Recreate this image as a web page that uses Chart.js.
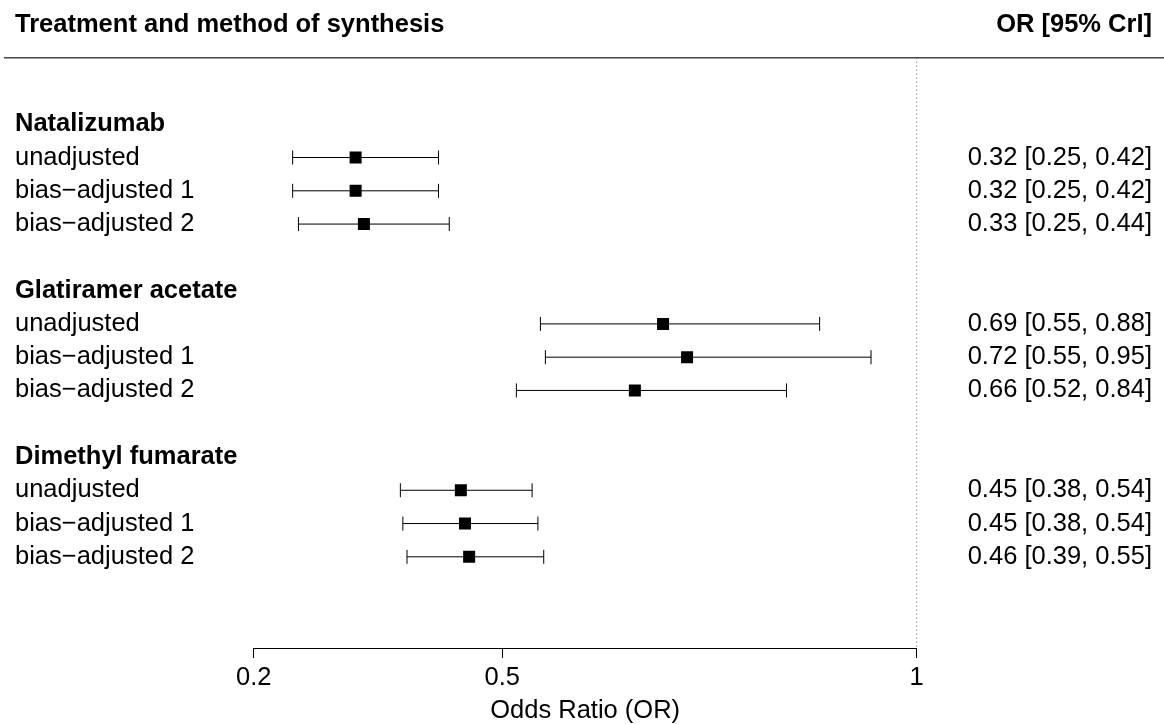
<!DOCTYPE html>
<html>
<head>
<meta charset="utf-8">
<title>Forest plot</title>
<script src="https://cdn.jsdelivr.net/npm/chart.js@4.4.0/dist/chart.umd.min.js"></script>
<style>
  html, body { margin: 0; padding: 0; background: #fff; }
</style>
</head>
<body>
<canvas id="forest" width="1164" height="724"></canvas>
<script>
// ===== DATA =====
const groups = ["Natalizumab", "Glatiramer acetate", "Dimethyl fumarate"];
const methods = ["unadjusted", "bias\u2212adjusted 1", "bias\u2212adjusted 2"];

// one entry per group x method, in reading order
const orMean  = [0.323, 0.323, 0.333, 0.694, 0.723, 0.660, 0.450, 0.455, 0.460];
const orLower = [0.247, 0.247, 0.254, 0.546, 0.552, 0.517, 0.377, 0.380, 0.385];
const orUpper = [0.423, 0.423, 0.436, 0.883, 0.945, 0.843, 0.536, 0.543, 0.550];
const orText = [
  "0.32 [0.25, 0.42]", "0.32 [0.25, 0.42]", "0.33 [0.25, 0.44]",
  "0.69 [0.55, 0.88]", "0.72 [0.55, 0.95]", "0.66 [0.52, 0.84]",
  "0.45 [0.38, 0.54]", "0.45 [0.38, 0.54]", "0.46 [0.39, 0.55]"
];
const xTicks = [0.2, 0.5, 1];

const FONT = "'Liberation Sans', Arial, Helvetica, sans-serif";
const FONT_SIZE = 25.5;

// rows: group header, then its three methods, then a blank row
function headerRow(g) { return g * 5; }
function studyRow(i) { return headerRow(Math.floor(i / 3)) + 1 + (i % 3); }

const points = orMean.map((v, i) => ({ x: v, y: studyRow(i) }));

// ===== DECORATION (CI bars, lines, text) =====
const forestDecor = {
  id: "forestDecor",
  beforeDatasetsDraw(chart) {
    const { ctx, scales: { x, y } } = chart;
    const topY = y.getPixelForValue(-2);
    ctx.save();

    // header rule
    ctx.strokeStyle = "#444";
    ctx.lineWidth = 1.5;
    ctx.beginPath();
    ctx.moveTo(4, topY);
    ctx.lineTo(chart.width, topY);
    ctx.stroke();

    // reference line at OR = 1
    const refX = x.getPixelForValue(1);
    ctx.strokeStyle = "#666";
    ctx.lineWidth = 1;
    ctx.setLineDash([1, 3]);
    ctx.beginPath();
    ctx.moveTo(refX, topY);
    ctx.lineTo(refX, chart.chartArea.bottom);
    ctx.stroke();
    ctx.setLineDash([]);

    // credible intervals
    ctx.strokeStyle = "#000";
    ctx.lineWidth = 1;
    orMean.forEach((m, i) => {
      const py = y.getPixelForValue(studyRow(i));
      const x0 = x.getPixelForValue(orLower[i]);
      const x1 = x.getPixelForValue(orUpper[i]);
      ctx.beginPath();
      ctx.moveTo(x0, py);
      ctx.lineTo(x1, py);
      ctx.moveTo(x0, py - 7);
      ctx.lineTo(x0, py + 7);
      ctx.moveTo(x1, py - 7);
      ctx.lineTo(x1, py + 7);
      ctx.stroke();
    });
    ctx.restore();
  },
  afterDraw(chart) {
    const { ctx, scales: { y } } = chart;
    const off = 7; // baseline below row centre
    ctx.save();
    ctx.fillStyle = "#000";
    ctx.textBaseline = "alphabetic";

    // column headings
    ctx.font = `bold ${FONT_SIZE}px ${FONT}`;
    ctx.textAlign = "left";
    ctx.fillText("Treatment and method of synthesis", 15, 32);
    ctx.textAlign = "right";
    ctx.fillText("OR [95% CrI]", 1152, 32);

    // group headings
    ctx.textAlign = "left";
    groups.forEach((g, gi) => {
      ctx.fillText(g, 15, y.getPixelForValue(headerRow(gi)) + off);
    });

    // method labels and estimates
    ctx.font = `${FONT_SIZE}px ${FONT}`;
    orMean.forEach((m, i) => {
      const py = y.getPixelForValue(studyRow(i)) + off;
      ctx.textAlign = "left";
      ctx.fillText(methods[i % 3], 15, py);
      ctx.textAlign = "right";
      ctx.fillText(orText[i], 1152, py);
    });
    ctx.restore();
  }
};

// ===== CHART =====
new Chart(document.getElementById("forest"), {
  type: "scatter",
  data: {
    datasets: [{
      data: points,
      pointStyle: "rect",
      pointRadius: 8.5,
      pointHoverRadius: 8.5,
      pointBorderWidth: 0,
      backgroundColor: "#000",
      borderColor: "#000"
    }]
  },
  options: {
    responsive: false,
    animation: false,
    events: [],
    layout: { padding: { left: 253.7, right: 247.4, top: 57.7, bottom: 0 } },
    plugins: {
      legend: { display: false },
      tooltip: { enabled: false }
    },
    scales: {
      x: {
        type: "linear",
        min: 0.2,
        max: 1,
        afterBuildTicks: scale => {
          scale.ticks = xTicks.map(v => ({ value: v }));
        },
        ticks: {
          callback: v => String(v),
          color: "#000",
          padding: 7.5,
          maxRotation: 0,
          autoSkip: false,
          font: { family: FONT, size: FONT_SIZE, lineHeight: 1 }
        },
        grid: {
          drawOnChartArea: false,
          drawTicks: true,
          tickLength: 10,
          color: "#000",
          lineWidth: 1
        },
        border: { display: true, color: "#000", width: 1 },
        title: {
          display: true,
          text: "Odds Ratio (OR)",
          color: "#000",
          padding: 0,
          font: { family: FONT, size: FONT_SIZE, lineHeight: 1 }
        }
      },
      y: {
        type: "linear",
        reverse: true,
        min: -2,
        max: 15.74,
        display: false
      }
    }
  },
  plugins: [forestDecor]
});
</script>
</body>
</html>
